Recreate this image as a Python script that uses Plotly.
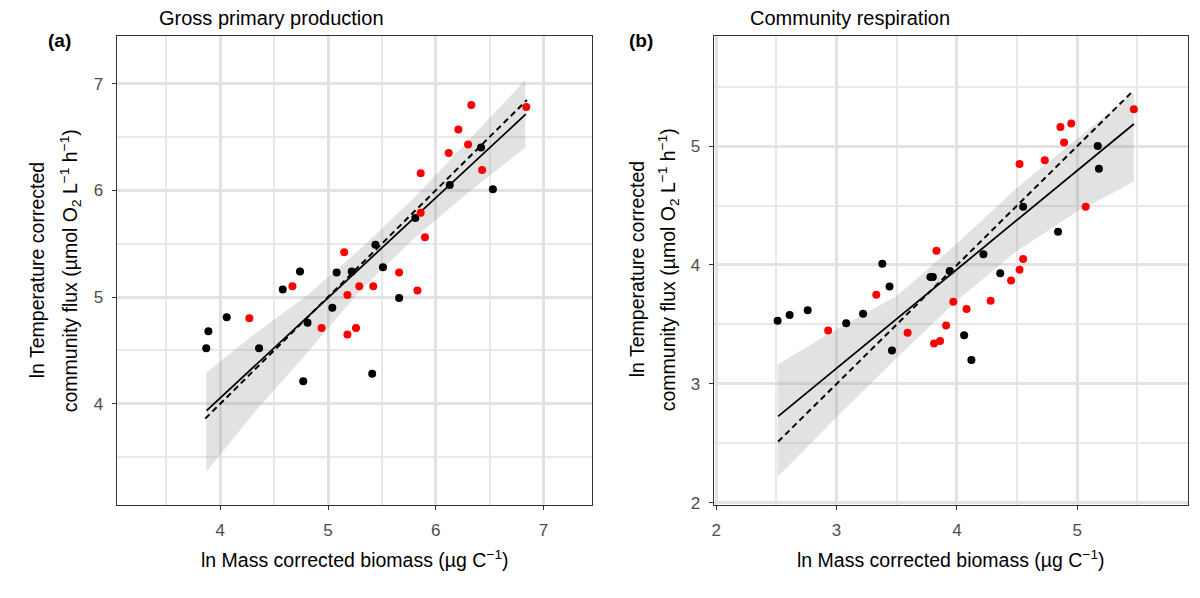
import plotly.graph_objects as go

# ---------------- data ----------------
# Panel (a) Gross primary production
a_black_x = [3.87, 3.89, 4.06, 4.36, 4.58, 4.74, 4.77, 4.81, 5.04, 5.08, 5.22, 5.44, 5.41, 5.51, 5.66, 5.81, 6.13, 6.42, 6.53]
a_black_y = [4.52, 4.68, 4.81, 4.52, 5.07, 5.24, 4.21, 4.76, 4.90, 5.23, 5.24, 5.49, 4.28, 5.28, 4.99, 5.74, 6.05, 6.40, 6.01]
a_red_x = [4.27, 4.67, 4.94, 5.15, 5.18, 5.18, 5.26, 5.29, 5.42, 5.66, 5.83, 5.86, 5.86, 5.90, 6.12, 6.21, 6.30, 6.33, 6.43, 6.84]
a_red_y = [4.80, 5.10, 4.71, 5.42, 5.02, 4.65, 4.71, 5.10, 5.10, 5.23, 5.06, 6.16, 5.79, 5.56, 6.35, 6.57, 6.43, 6.80, 6.19, 6.78]
a_fit_x = [3.873, 6.836]
a_fit_y = [3.935, 6.713]
a_one_x = [3.861, 6.846]
a_one_y = [3.861, 6.846]
a_band_x = [3.87, 4.3, 4.8, 5.3, 5.8, 6.3, 6.83]
a_band_hi = [4.29, 4.64, 5.01, 5.45, 5.93, 6.46, 7.03]
a_band_lo = [3.36, 3.90, 4.47, 5.06, 5.55, 5.98, 6.40]

# Panel (b) Community respiration
b_black_x = [2.51, 2.61, 2.76, 3.08, 3.22, 3.38, 3.44, 3.46, 3.78, 3.80, 3.94, 4.06, 4.12, 4.22, 4.36, 4.55, 4.84, 5.17, 5.18]
b_black_y = [3.53, 3.58, 3.62, 3.51, 3.59, 4.01, 3.82, 3.28, 3.90, 3.90, 3.95, 3.41, 3.20, 4.09, 3.93, 4.49, 4.28, 5.00, 4.81]
b_red_x = [2.93, 3.33, 3.59, 3.81, 3.86, 3.83, 3.91, 3.97, 4.08, 4.28, 4.45, 4.52, 4.55, 4.52, 4.73, 4.86, 4.95, 4.89, 5.07, 5.47]
b_red_y = [3.45, 3.75, 3.43, 3.34, 3.36, 4.12, 3.49, 3.69, 3.63, 3.70, 3.87, 3.96, 4.05, 4.85, 4.88, 5.16, 5.19, 5.03, 4.49, 5.31]
b_fit_x = [2.514, 5.47]
b_fit_y = [2.727, 5.186]
b_one_x = [2.514, 5.47]
b_one_y = [2.514, 5.47]
b_band_x = [2.51, 3.0, 3.5, 4.0, 4.5, 5.0, 5.47]
b_band_hi = [3.164, 3.46, 3.74, 4.18, 4.65, 5.06, 5.45]
b_band_lo = [2.218, 2.72, 3.22, 3.70, 4.12, 4.45, 4.70]

a_ticks = [4, 5, 6, 7]
b_ticks = [2, 3, 4, 5]

titles = ["Gross primary production", "Community respiration"]
panel_labels = ["(a)", "(b)"]
x_title = "ln Mass corrected biomass (µg C<sup>−1</sup>)"
y_title_1 = "ln Temperature corrected"
y_title_2 = "community flux (µmol O<sub>2</sub> L<sup>−1</sup> h<sup>−1</sup>)"

W, H = 1200, 598
FONT = "Liberation Sans, Arial, sans-serif"
BAND = "rgba(150,150,150,0.28)"

fig = go.Figure()


def add_panel(bx, bhi, blo, fx, fy, ox, oy, kx, ky, rx, ry, xa, ya):
    fig.add_trace(go.Scatter(x=bx + bx[::-1], y=bhi + blo[::-1], fill="toself",
                             fillcolor=BAND, line=dict(width=0), mode="lines",
                             hoverinfo="skip", showlegend=False, xaxis=xa, yaxis=ya))
    fig.add_trace(go.Scatter(x=ox, y=oy, mode="lines",
                             line=dict(color="black", width=2, dash="6px,4px"),
                             showlegend=False, xaxis=xa, yaxis=ya))
    fig.add_trace(go.Scatter(x=fx, y=fy, mode="lines",
                             line=dict(color="black", width=1.8),
                             showlegend=False, xaxis=xa, yaxis=ya))
    fig.add_trace(go.Scatter(x=kx, y=ky, mode="markers",
                             marker=dict(color="black", size=8, line=dict(width=0)),
                             showlegend=False, xaxis=xa, yaxis=ya))
    fig.add_trace(go.Scatter(x=rx, y=ry, mode="markers",
                             marker=dict(color="#ff0000", size=8, line=dict(width=0)),
                             showlegend=False, xaxis=xa, yaxis=ya))


add_panel(a_band_x, a_band_hi, a_band_lo, a_fit_x, a_fit_y, a_one_x, a_one_y,
          a_black_x, a_black_y, a_red_x, a_red_y, "x", "y")
add_panel(b_band_x, b_band_hi, b_band_lo, b_fit_x, b_fit_y, b_one_x, b_one_y,
          b_black_x, b_black_y, b_red_x, b_red_y, "x2", "y2")


def axis(rng, ticks, domain, anchor):
    return dict(
        range=rng, domain=domain, anchor=anchor,
        tickmode="array", tickvals=ticks, ticktext=[str(t) for t in ticks],
        showgrid=True, gridcolor="#e2e2e2", gridwidth=2.5,
        minor=dict(dtick=0.5, tick0=0, showgrid=True, gridcolor="#e8e8e8",
                   gridwidth=1.5, ticks=""),
        ticks="outside", ticklen=4, tickwidth=1, tickcolor="#333333",
        tickfont=dict(family=FONT, size=17, color="#4d4d4d"),
        ticklabelstandoff=5,
        showline=True, linecolor="#333333", linewidth=1.2, mirror=True,
        zeroline=False, fixedrange=True,
    )


ydom = [1 - 512 / H, 1 - 36 / H]
fig.update_layout(
    width=W, height=H,
    margin=dict(l=0, r=0, t=0, b=0),
    paper_bgcolor="white", plot_bgcolor="white",
    font=dict(family=FONT, color="black"),
    xaxis=axis([3.04, 7.45], a_ticks, [115 / W, 591 / W], "y"),
    yaxis=axis([3.05, 7.45], a_ticks, ydom, "x"),
    xaxis2=axis([1.98, 5.92], b_ticks, [713 / W, 1188 / W], "y2"),
    yaxis2=axis([1.98, 5.93], b_ticks, ydom, "x2"),
)

ann = []


def px(x, y, text, size=16, angle=0, bold=False, xanchor="center"):
    ann.append(dict(x=x / W, y=1 - y / H, xref="paper", yref="paper",
                    text=("<b>%s</b>" % text) if bold else text,
                    showarrow=False, textangle=angle, xanchor=xanchor,
                    yanchor="middle",
                    font=dict(family=FONT, size=size, color="black")))


# titles and panel labels
px(270, 18, titles[0], size=20)
px(849, 18, titles[1], size=20)
px(58, 41, panel_labels[0], size=19, bold=True)
px(640, 41, panel_labels[1], size=19, bold=True)
# x titles
px(353, 567, x_title, size=19.5)
px(950, 567, x_title, size=19.5)
# y titles (two lines each)
px(35, 274, y_title_1, size=19.5, angle=-90)
px(68, 274, y_title_2, size=19.5, angle=-90)
px(636, 273, y_title_1, size=19.5, angle=-90)
px(667, 273, y_title_2, size=19.5, angle=-90)

fig.update_layout(annotations=ann)
fig.write_html("out.html")
